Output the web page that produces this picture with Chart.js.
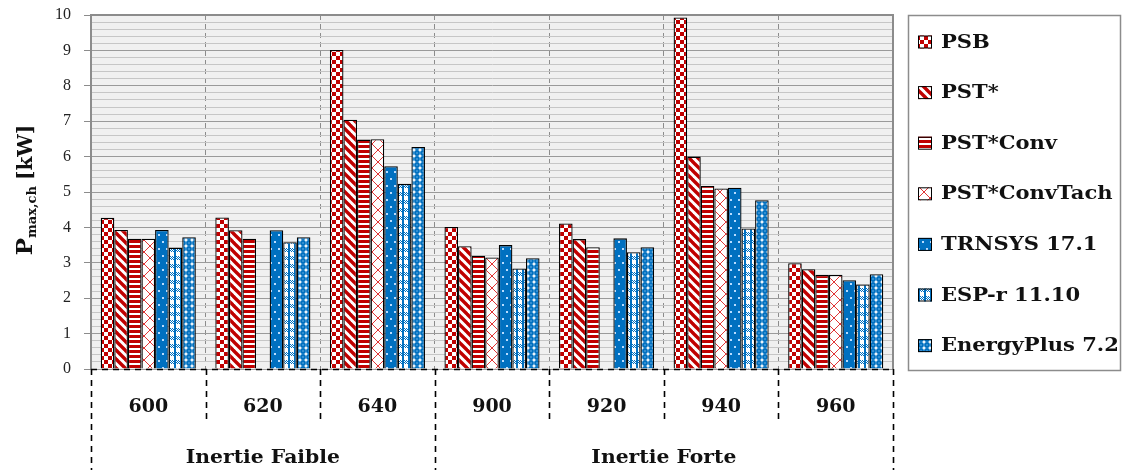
<!DOCTYPE html>
<html><head><meta charset="utf-8">
<script src="https://cdn.jsdelivr.net/npm/chart.js@4.4.1/dist/chart.umd.min.js"></script>
<style>html,body{margin:0;padding:0;background:#fff;overflow:hidden}#wrap{width:1124px;height:470px}</style>
</head><body><div id="wrap"><canvas id="c" width="1124" height="470"></canvas></div>
<script>
// ---- data ----
const categories = ['600','620','640','900','920','940','960'];
const groupLabels = ['Inertie Faible','Inertie Forte'];
const groupSpans = [3, 4];
const seriesNames = ['PSB','PST*','PST*Conv','PST*ConvTach','TRNSYS 17.1','ESP-r 11.10','EnergyPlus 7.2'];
const psb         = [4.27, 4.28, 9.01, 4.01, 4.11, 9.93, 2.99];
const pst         = [3.93, 3.92, 7.04, 3.47, 3.67, 6.00, 2.82];
const pstConv     = [3.68, 3.68, 6.48, 3.20, 3.44, 5.17, 2.66];
const pstConvTach = [3.68, null, 6.49, 3.15, null, 5.10, 2.66];
const trnsys      = [3.93, 3.92, 5.73, 3.50, 3.69, 5.12, 2.51];
const espr        = [3.43, 3.58, 5.23, 2.84, 3.30, 3.97, 2.39];
const eplus       = [3.72, 3.72, 6.27, 3.13, 3.44, 4.77, 2.68];
const yMin = 0, yMax = 10, yStep = 0.2;

// ---- patterns ----
const RED = '#c00000', BLUE = '#0070c0';
function mk(w, h, draw) {
  const c = document.createElement('canvas'); c.width = w; c.height = h;
  const g = c.getContext('2d'); draw(g, w, h);
  return document.getElementById('c').getContext('2d').createPattern(c, 'repeat');
}
const patChecker = mk(8, 8, (g) => { g.fillStyle = '#fff'; g.fillRect(0,0,8,8); g.fillStyle = RED; g.fillRect(0,0,4,4); g.fillRect(4,4,4,4); });
const patDiag = mk(9, 9, (g) => {
  g.fillStyle = '#fff'; g.fillRect(0,0,9,9); g.strokeStyle = RED; g.lineWidth = 3.4;
  for (const o of [-9, 0, 9]) { g.beginPath(); g.moveTo(o - 1, -1); g.lineTo(o + 10, 10); g.stroke(); }
});
const patHoriz = mk(4, 5, (g) => { g.fillStyle = '#fff'; g.fillRect(0,0,4,5); g.fillStyle = RED; g.fillRect(0,0,4,3); });
const patLattice = mk(12, 12, (g) => {
  g.fillStyle = '#fff'; g.fillRect(0,0,12,12); g.strokeStyle = '#e03535'; g.lineWidth = 1;
  g.beginPath(); g.moveTo(0,0); g.lineTo(12,12); g.moveTo(12,0); g.lineTo(0,12); g.stroke();
});
const patDots = mk(8, 14, (g) => {
  g.fillStyle = BLUE; g.fillRect(0,0,8,14); g.fillStyle = '#b8dcff';
  g.fillRect(2,3,2,2); g.fillRect(6,10,2,2);
});
const patPlaid = mk(6, 8, (g) => {
  g.fillStyle = '#fff'; g.fillRect(0,0,6,8); g.fillStyle = BLUE;
  g.fillRect(0,0,2,8);
  for (let y = 0; y < 4; y++) for (let x = 2; x < 6; x++) if ((x + y) % 2 === 0) g.fillRect(x, y, 1, 1);
});
const patCircles = mk(6, 6, (g) => {
  g.fillStyle = '#fff'; g.fillRect(0,0,6,6); g.fillStyle = BLUE;
  g.beginPath(); g.arc(3,3,2.9,0,Math.PI*2); g.fill();
  g.fillStyle = '#cfe6ff'; g.fillRect(2.5,2.5,1,1);
});
const seriesPatterns = [patChecker, patDiag, patHoriz, patLattice, patDots, patPlaid, patCircles];
const seriesData = [psb, pst, pstConv, pstConvTach, trnsys, espr, eplus];

const isInt = v => Math.abs(v - Math.round(v)) < 1e-6;
const BOLD = '"DejaVu Serif", "Liberation Serif", serif';

function wideText(ctx, txt, x, y, sx, align) {
  const w = ctx.measureText(txt).width * sx;
  let x0 = x;
  if (align === 'center') x0 = x - w / 2;
  ctx.save(); ctx.translate(x0, y); ctx.scale(sx, 1);
  ctx.textAlign = 'left'; ctx.fillText(txt, 0, 0); ctx.restore();
}

const decor = {
  id: 'decor',
  beforeDraw(chart) {
    const {ctx, chartArea: a} = chart;
    ctx.save(); ctx.fillStyle = '#f0f0f0'; ctx.fillRect(a.left, a.top, a.right - a.left, a.bottom - a.top); ctx.restore();
  },
  afterDraw(chart) {
    const {ctx, chartArea: a, scales: {x}} = chart;
    ctx.save();
    ctx.strokeStyle = '#8c8c8c'; ctx.lineWidth = 2;
    ctx.beginPath(); ctx.moveTo(a.left, a.top); ctx.lineTo(a.right, a.top); ctx.lineTo(a.right, a.bottom); ctx.stroke();
    ctx.strokeStyle = '#000'; ctx.lineWidth = 1.6; ctx.setLineDash([6, 5]);
    ctx.beginPath(); ctx.moveTo(a.left, a.bottom + 0.5); ctx.lineTo(a.right, a.bottom + 0.5); ctx.stroke();
    const n = categories.length;
    const step = x.getPixelForValue(1) - x.getPixelForValue(0);
    const bound = i => x.getPixelForValue(0) + (i - 0.5) * step;
    const groupBounds = [0]; groupSpans.forEach(s => groupBounds.push(groupBounds[groupBounds.length - 1] + s));
    for (let i = 0; i <= n; i++) {
      const px = Math.round(bound(i)) + 0.5;
      const isG = groupBounds.includes(i);
      ctx.beginPath(); ctx.moveTo(px, a.bottom); ctx.lineTo(px, isG ? 470 : 420); ctx.stroke();
    }
    ctx.setLineDash([]);
    ctx.fillStyle = '#111'; ctx.textBaseline = 'middle';
    ctx.font = 'bold 19px ' + BOLD;
    categories.forEach((c, i) => wideText(ctx, c, x.getPixelForValue(i), 407, 1.0, 'center'));
    groupLabels.forEach((g, k) => {
      const cx = (bound(groupBounds[k]) + bound(groupBounds[k + 1])) / 2;
      wideText(ctx, g, cx, 458, 1.07, 'center');
    });
    // y title
    ctx.save();
    ctx.translate(32, (a.top + a.bottom) / 2 - 2); ctx.rotate(-Math.PI / 2);
    ctx.textAlign = 'left'; ctx.textBaseline = 'alphabetic';
    const fP = 'bold 23px ' + BOLD, fS = 'bold 13px ' + BOLD, fU = 'bold 20px ' + BOLD;
    ctx.font = fP; const wP = ctx.measureText('P').width;
    ctx.font = fS; const wS = ctx.measureText('max,ch').width;
    ctx.font = fU; const wU = ctx.measureText('[kW]').width;
    const gap = 6, tot = wP + wS + gap + wU;
    let sx = -tot / 2;
    ctx.font = fP; ctx.fillText('P', sx, 0); sx += wP;
    ctx.font = fS; ctx.fillText('max,ch', sx, 4); sx += wS + gap;
    ctx.font = fU; ctx.fillText('[kW]', sx, 0);
    ctx.restore();
    // legend
    ctx.strokeStyle = '#8c8c8c'; ctx.lineWidth = 1.5;
    ctx.strokeRect(908.5, 15.5, 212, 355);
    ctx.font = 'bold 18px ' + BOLD; ctx.textBaseline = 'middle';
    seriesNames.forEach((s, i) => {
      const cy = 42 + i * 50.6;
      ctx.fillStyle = seriesPatterns[i]; ctx.fillRect(918, cy - 6.5, 14, 13);
      ctx.strokeStyle = '#000'; ctx.lineWidth = 1; ctx.strokeRect(918.5, cy - 6, 13, 12);
      ctx.fillStyle = '#111'; wideText(ctx, s, 941, cy + 1, 1.17, 'left');
    });
    ctx.restore();
  }
};

new Chart(document.getElementById('c'), {
  type: 'bar',
  data: {
    labels: categories,
    datasets: seriesNames.map((name, i) => ({
      label: name, data: seriesData[i], backgroundColor: seriesPatterns[i],
      borderColor: '#000', borderWidth: 1.3,
      categoryPercentage: 0.83, barPercentage: 1.0
    }))
  },
  options: {
    responsive: false, animation: false, devicePixelRatio: 1,
    layout: {padding: {left: 0, right: 231, top: 15, bottom: 0}},
    plugins: {legend: {display: false}, tooltip: {enabled: false}},
    scales: {
      x: {
        ticks: {display: false},
        grid: {offset: true, color: '#8c8c8c', lineWidth: 1, drawTicks: false},
        border: {display: false, dash: [5, 4]},
        afterFit: s => { s.height = 101; s.paddingLeft = 0; s.paddingRight = 0; }
      },
      y: {
        min: yMin, max: yMax,
        ticks: {stepSize: yStep, autoSkip: false, padding: 13, color: '#222',
                font: {family: '"Liberation Serif", serif', size: 16},
                callback: v => isInt(v) ? String(Math.round(v)) : ''},
        grid: {color: c => isInt(c.tick.value) ? '#9a9a9a' : '#c6c6c6', lineWidth: 1,
               tickColor: c => isInt(c.tick.value) ? '#8c8c8c' : 'rgba(0,0,0,0)', tickLength: 7},
        border: {color: '#8c8c8c', width: 2},
        afterFit: s => { s.width = 91; s.paddingTop = 0; s.paddingBottom = 0; }
      }
    }
  },
  plugins: [decor]
});
</script></body></html>
